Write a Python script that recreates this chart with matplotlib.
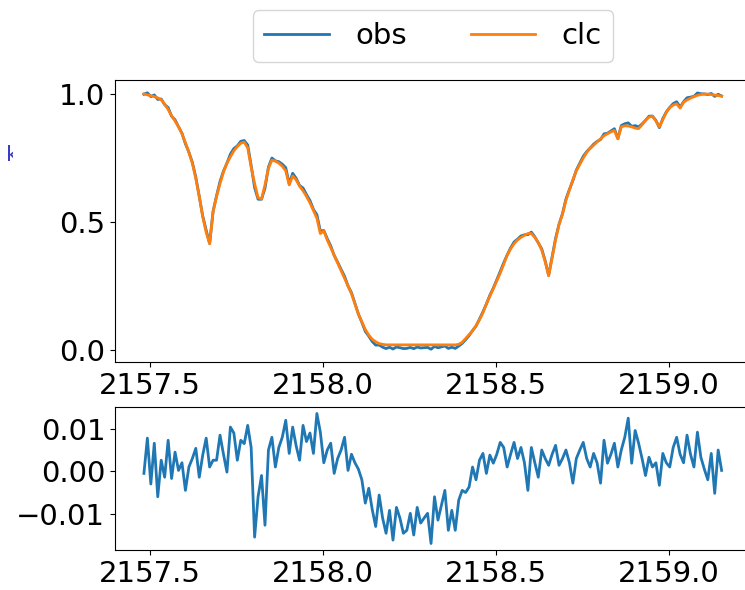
import numpy as np
import matplotlib
matplotlib.use("Agg")
import matplotlib.pyplot as plt
from matplotlib.transforms import Bbox

# wavelength grid (start, step, count)
wl_start = 2157.483
wl_step = 0.01
n_pts = 168

# calculated profile
clc = [1.000, 0.997, 0.993, 0.990, 0.985, 0.978, 0.960, 0.940, 0.915, 0.895,
       0.872, 0.845, 0.810, 0.772, 0.730, 0.670, 0.600, 0.520, 0.460, 0.415,
       0.540, 0.600, 0.650, 0.695, 0.730, 0.755, 0.778, 0.795, 0.808, 0.812,
       0.790, 0.715, 0.650, 0.595, 0.590, 0.645, 0.710, 0.742, 0.738, 0.730,
       0.718, 0.700, 0.645, 0.680, 0.665, 0.640, 0.622, 0.600, 0.575, 0.545,
       0.515, 0.455, 0.465, 0.430, 0.400, 0.370, 0.340, 0.310, 0.280, 0.250,
       0.220, 0.180, 0.140, 0.110, 0.080, 0.058, 0.042, 0.032, 0.025, 0.022,
       0.020, 0.020, 0.020, 0.020, 0.020, 0.020, 0.020, 0.020, 0.020, 0.020,
       0.020, 0.020, 0.020, 0.020, 0.020, 0.020, 0.020, 0.020, 0.020, 0.020,
       0.020, 0.022, 0.030, 0.045, 0.060, 0.075, 0.095, 0.118, 0.145, 0.180,
       0.210, 0.240, 0.270, 0.300, 0.335, 0.370, 0.395, 0.415, 0.430, 0.440,
       0.448, 0.455, 0.455, 0.440, 0.420, 0.390, 0.345, 0.290, 0.360, 0.430,
       0.490, 0.530, 0.585, 0.625, 0.665, 0.700, 0.725, 0.750, 0.772, 0.788,
       0.800, 0.813, 0.825, 0.837, 0.845, 0.852, 0.858, 0.825, 0.872, 0.876,
       0.875, 0.872, 0.867, 0.865, 0.880, 0.898, 0.910, 0.913, 0.895, 0.872,
       0.900, 0.928, 0.947, 0.957, 0.962, 0.945, 0.968, 0.977, 0.984, 0.990,
       0.995, 0.998, 1.000, 1.000, 0.998, 0.996, 0.994, 0.992]

# residuals obs - clc
resid = [-0.0005, 0.0078, -0.0030, 0.0066, -0.0060, 0.0026, -0.0014, 0.0073, -0.0017, 0.0045,
         0.0002, 0.0020, -0.0045, 0.0010, 0.0030, 0.0054, -0.0014, 0.0038, 0.0078, 0.0010,
         0.0026, 0.0026, 0.0085, 0.0040, -0.0002, 0.0104, 0.0090, 0.0026, 0.0073, 0.0065,
         0.0108, 0.0056, -0.0155, -0.0060, -0.0010, -0.0127, 0.0050, 0.0080, 0.0010, 0.0056,
         0.0080, 0.0120, 0.0042, 0.0104, 0.0060, 0.0026, 0.0108, 0.0070, 0.0090, 0.0042,
         0.0136, 0.0092, 0.0020, 0.0050, 0.0066, -0.0005, 0.0030, 0.0050, 0.0080, 0.0002,
         0.0040, 0.0020, 0.0005, -0.0020, -0.0075, -0.0040, -0.0090, -0.0130, -0.0056, -0.0110,
         -0.0146, -0.0092, -0.0162, -0.0085, -0.0110, -0.0146, -0.0139, -0.0099, -0.0150, -0.0085,
         -0.0122, -0.0110, -0.0099, -0.0170, -0.0060, -0.0115, -0.0080, -0.0045, -0.0139, -0.0092,
         -0.0139, -0.0068, -0.0045, -0.0050, -0.0037, 0.0010, -0.0020, 0.0026, 0.0042, -0.0005,
         0.0038, 0.0019, 0.0040, 0.0068, 0.0056, 0.0010, 0.0040, 0.0068, 0.0030, 0.0056,
         0.0020, -0.0045, 0.0056, 0.0020, -0.0014, 0.0050, 0.0030, 0.0014, 0.0040, 0.0061,
         0.0014, 0.0030, 0.0050, 0.0020, -0.0028, 0.0030, 0.0050, 0.0068, 0.0030, 0.0010,
         0.0042, 0.0020, -0.0028, 0.0073, 0.0019, 0.0040, 0.0066, 0.0010, 0.0050, 0.0080,
         0.0125, 0.0019, 0.0096, 0.0066, 0.0030, -0.0010, 0.0033, 0.0010, 0.0020, -0.0033,
         0.0042, 0.0020, 0.0010, 0.0056, 0.0080, 0.0040, 0.0020, 0.0085, 0.0040, 0.0010,
         0.0092, 0.0033, 0.0005, -0.0020, 0.0042, -0.0052, 0.0050, 0.0002]

wl = wl_start + wl_step * np.arange(n_pts)
clc = np.array(clc)
resid = np.array(resid)
obs = clc + resid

fig = plt.figure(figsize=(7.45, 5.9), dpi=100)
ax1 = fig.add_axes([0.1544, 0.3864, 0.853, 0.478])
ax2 = fig.add_axes([0.1544, 0.0678, 0.853, 0.2424])

l1, = ax1.plot(wl, obs, color='#1f77b4', lw=2, label='obs')
l2, = ax1.plot(wl, clc, color='#ff7f0e', lw=2, label='clc')
ax1.set_yticks([0.0, 0.5, 1.0])

ax2.plot(wl, resid, color='#1f77b4', lw=2)
ax2.set_yticks([-0.01, 0.0, 0.01])
ax2.set_xlim(ax1.get_xlim())

for ax in (ax1, ax2):
    ax.set_xticks([2157.5, 2158.0, 2158.5, 2159.0])
    ax.tick_params(labelsize=21)

fig.legend(handles=[l1, l2], loc='center', ncol=2, fontsize=21,
           handlelength=2.2, handletextpad=0.9, columnspacing=2.2,
           bbox_to_anchor=(0.581, 0.939), frameon=True)

# clipped blue label fragment on the far left
t = fig.text(0.008, 0.737, 'k', color='#3c3cc0', fontsize=16, ha='left', va='center')
t.set_clip_box(Bbox.from_extents(0, 0, 13, 590))
t.set_clip_on(True)

fig.savefig('out.png', dpi=100)
